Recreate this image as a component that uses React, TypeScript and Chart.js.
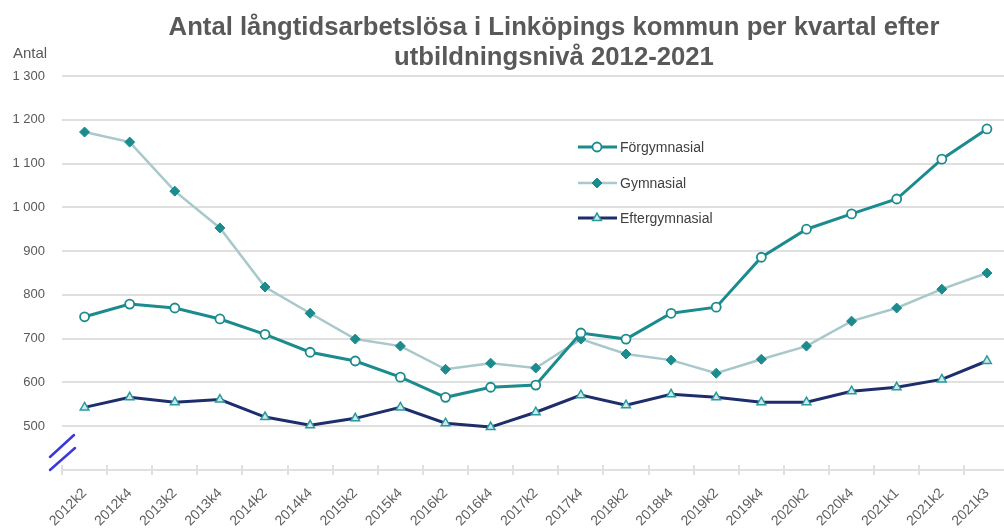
import React, { useEffect, useRef } from 'react';
import { Chart, registerables } from 'chart.js';
import { drawPoint } from 'chart.js/helpers';

Chart.register(...registerables);

// ---- Data ----
const categories = ['2012k2', '2012k4', '2013k2', '2013k4', '2014k2', '2014k4', '2015k2', '2015k4', '2016k2', '2016k4', '2017k2', '2017k4', '2018k2', '2018k4', '2019k2', '2019k4', '2020k2', '2020k4', '2021k1', '2021k2', '2021k3'];
const forgymnasial = [750, 779, 770, 745, 710, 669, 649, 612, 566, 589, 594, 713, 699, 758, 772, 886, 950, 985, 1019, 1110, 1179];
const gymnasial = [1172, 1149, 1037, 953, 818, 758, 699, 683, 630, 644, 633, 699, 665, 651, 621, 653, 683, 740, 770, 813, 850];
const eftergymnasial = [543, 566, 555, 561, 521, 502, 518, 543, 507, 498, 532, 571, 548, 573, 566, 555, 555, 580, 589, 607, 649];
const seriesNames = ['Förgymnasial', 'Gymnasial', 'Eftergymnasial'];
const titleLines = ['Antal långtidsarbetslösa i Linköpings kommun per kvartal efter', 'utbildningsnivå 2012-2021'];
const yAxisTitle = 'Antal';
const yMin = 400;
const yMax = 1300;
const yStep = 100;

// ---- Styles ----
const TEAL = '#1b8b8e';
const LIGHT = '#a8c8cb';
const NAVY = '#1e2e6c';
const GRID = '#e0e0e0';
const TEXT = '#595959';
const FONT = '"Liberation Sans", Arial, sans-serif';
const CANVAS_W = 1016;
const CANVAS_H = 528;

const decorPlugin = {
  id: 'decor',
  afterDraw(chart: any) {
    const ctx = chart.ctx;
    const area = chart.chartArea;
    ctx.save();
    // Title
    ctx.fillStyle = TEXT;
    ctx.font = `bold 25.7px ${FONT}`;
    ctx.textAlign = 'center';
    ctx.textBaseline = 'alphabetic';
    ctx.fillText(titleLines[0], 554, 35);
    ctx.fillText(titleLines[1], 554, 65);
    // Y axis title
    ctx.font = `15px ${FONT}`;
    ctx.textAlign = 'left';
    ctx.fillText(yAxisTitle, 13, 58);
    // Tick marks crossing above the x axis
    const n = categories.length;
    ctx.strokeStyle = GRID;
    ctx.lineWidth = 2;
    ctx.beginPath();
    for (let i = 0; i <= n; i++) {
      const x = Math.round(area.left + (i * (area.right - area.left)) / n);
      ctx.moveTo(x, area.bottom - 5);
      ctx.lineTo(x, area.bottom);
    }
    ctx.stroke();
    // Axis break marks
    ctx.strokeStyle = '#3a3ad6';
    ctx.lineWidth = 2.5;
    ctx.lineCap = 'round';
    ctx.beginPath();
    ctx.moveTo(area.left - 12, area.bottom - 13);
    ctx.lineTo(area.left + 12, area.bottom - 35);
    ctx.moveTo(area.left - 12, area.bottom);
    ctx.lineTo(area.left + 13, area.bottom - 22);
    ctx.stroke();
    // Legend
    const legendY = [147, 183, 218];
    chart.data.datasets.forEach((ds: any, i: number) => {
      const y = legendY[i];
      ctx.strokeStyle = ds.borderColor;
      ctx.lineWidth = ds.borderWidth;
      ctx.lineCap = 'butt';
      ctx.beginPath();
      ctx.moveTo(578, y);
      ctx.lineTo(617, y);
      ctx.stroke();
      ctx.fillStyle = ds.pointBackgroundColor;
      ctx.strokeStyle = ds.pointBorderColor;
      ctx.lineWidth = ds.pointBorderWidth;
      drawPoint(ctx, { pointStyle: ds.pointStyle, radius: ds.pointRadius, borderWidth: ds.pointBorderWidth, rotation: 0 }, 597, y);
      ctx.fillStyle = '#404040';
      ctx.font = `14px ${FONT}`;
      ctx.textAlign = 'left';
      ctx.textBaseline = 'middle';
      ctx.fillText(ds.label, 620, y + 1);
    });
    ctx.restore();
  },
};

function fmt(v: number): string {
  const s = String(v);
  return s.length > 3 ? s.slice(0, s.length - 3) + ' ' + s.slice(-3) : s;
}

export default function App() {
  const ref = useRef<HTMLCanvasElement | null>(null);
  useEffect(() => {
    if (!ref.current) return;
    const chart = new Chart(ref.current, {
      type: 'line',
      data: {
        labels: categories,
        datasets: [
          {
            label: seriesNames[0],
            data: forgymnasial,
            borderColor: TEAL,
            borderWidth: 3,
            pointStyle: 'circle',
            pointRadius: 4.5,
            pointBorderWidth: 1.8,
            pointBackgroundColor: '#ffffff',
            pointBorderColor: TEAL,
            tension: 0,
          },
          {
            label: seriesNames[1],
            data: gymnasial,
            borderColor: LIGHT,
            borderWidth: 2.5,
            pointStyle: 'rectRot',
            pointRadius: 5,
            pointBorderWidth: 1,
            pointBackgroundColor: TEAL,
            pointBorderColor: TEAL,
            tension: 0,
          },
          {
            label: seriesNames[2],
            data: eftergymnasial,
            borderColor: NAVY,
            borderWidth: 3,
            pointStyle: 'triangle',
            pointRadius: 5,
            pointBorderWidth: 1.5,
            pointBackgroundColor: '#cfe9ea',
            pointBorderColor: '#2a9a9d',
            tension: 0,
          },
        ],
      },
      options: {
        responsive: false,
        animation: false,
        devicePixelRatio: 1,
        layout: { padding: { top: 76, right: CANVAS_W - 1011, left: 0, bottom: 0 } },
        plugins: {
          legend: { display: false },
          title: { display: false },
          tooltip: { enabled: false },
        },
        scales: {
          x: {
            type: 'category',
            offset: true,
            afterFit: (s: any) => { s.height = 58; },
            grid: {
              display: true,
              drawOnChartArea: false,
              drawTicks: true,
              tickLength: 5,
              offset: true,
              color: GRID,
              lineWidth: 2,
            },
            border: { display: true, color: GRID, width: 2 },
            ticks: {
              color: '#606060',
              font: { family: FONT, size: 14 },
              minRotation: 45,
              maxRotation: 45,
              autoSkip: false,
              padding: 10,
            },
          },
          y: {
            min: yMin,
            max: yMax,
            afterFit: (s: any) => { s.width = 62; },
            grid: { color: GRID, lineWidth: 2, drawTicks: false },
            border: { display: false },
            ticks: {
              stepSize: yStep,
              color: TEXT,
              padding: 17,
              font: { family: FONT, size: 13 },
              callback: (v: any) => (Number(v) === yMin ? '' : fmt(Number(v))),
            },
          },
        },
      },
      plugins: [decorPlugin],
    } as any);
    return () => chart.destroy();
  }, []);
  return (
    <div style={{ position: 'fixed', left: 0, top: 0, width: 1004, height: 528, overflow: 'hidden', background: '#fff' }}>
      <canvas ref={ref} width={CANVAS_W} height={CANVAS_H} style={{ display: 'block', width: CANVAS_W, height: CANVAS_H }} />
    </div>
  );
}
